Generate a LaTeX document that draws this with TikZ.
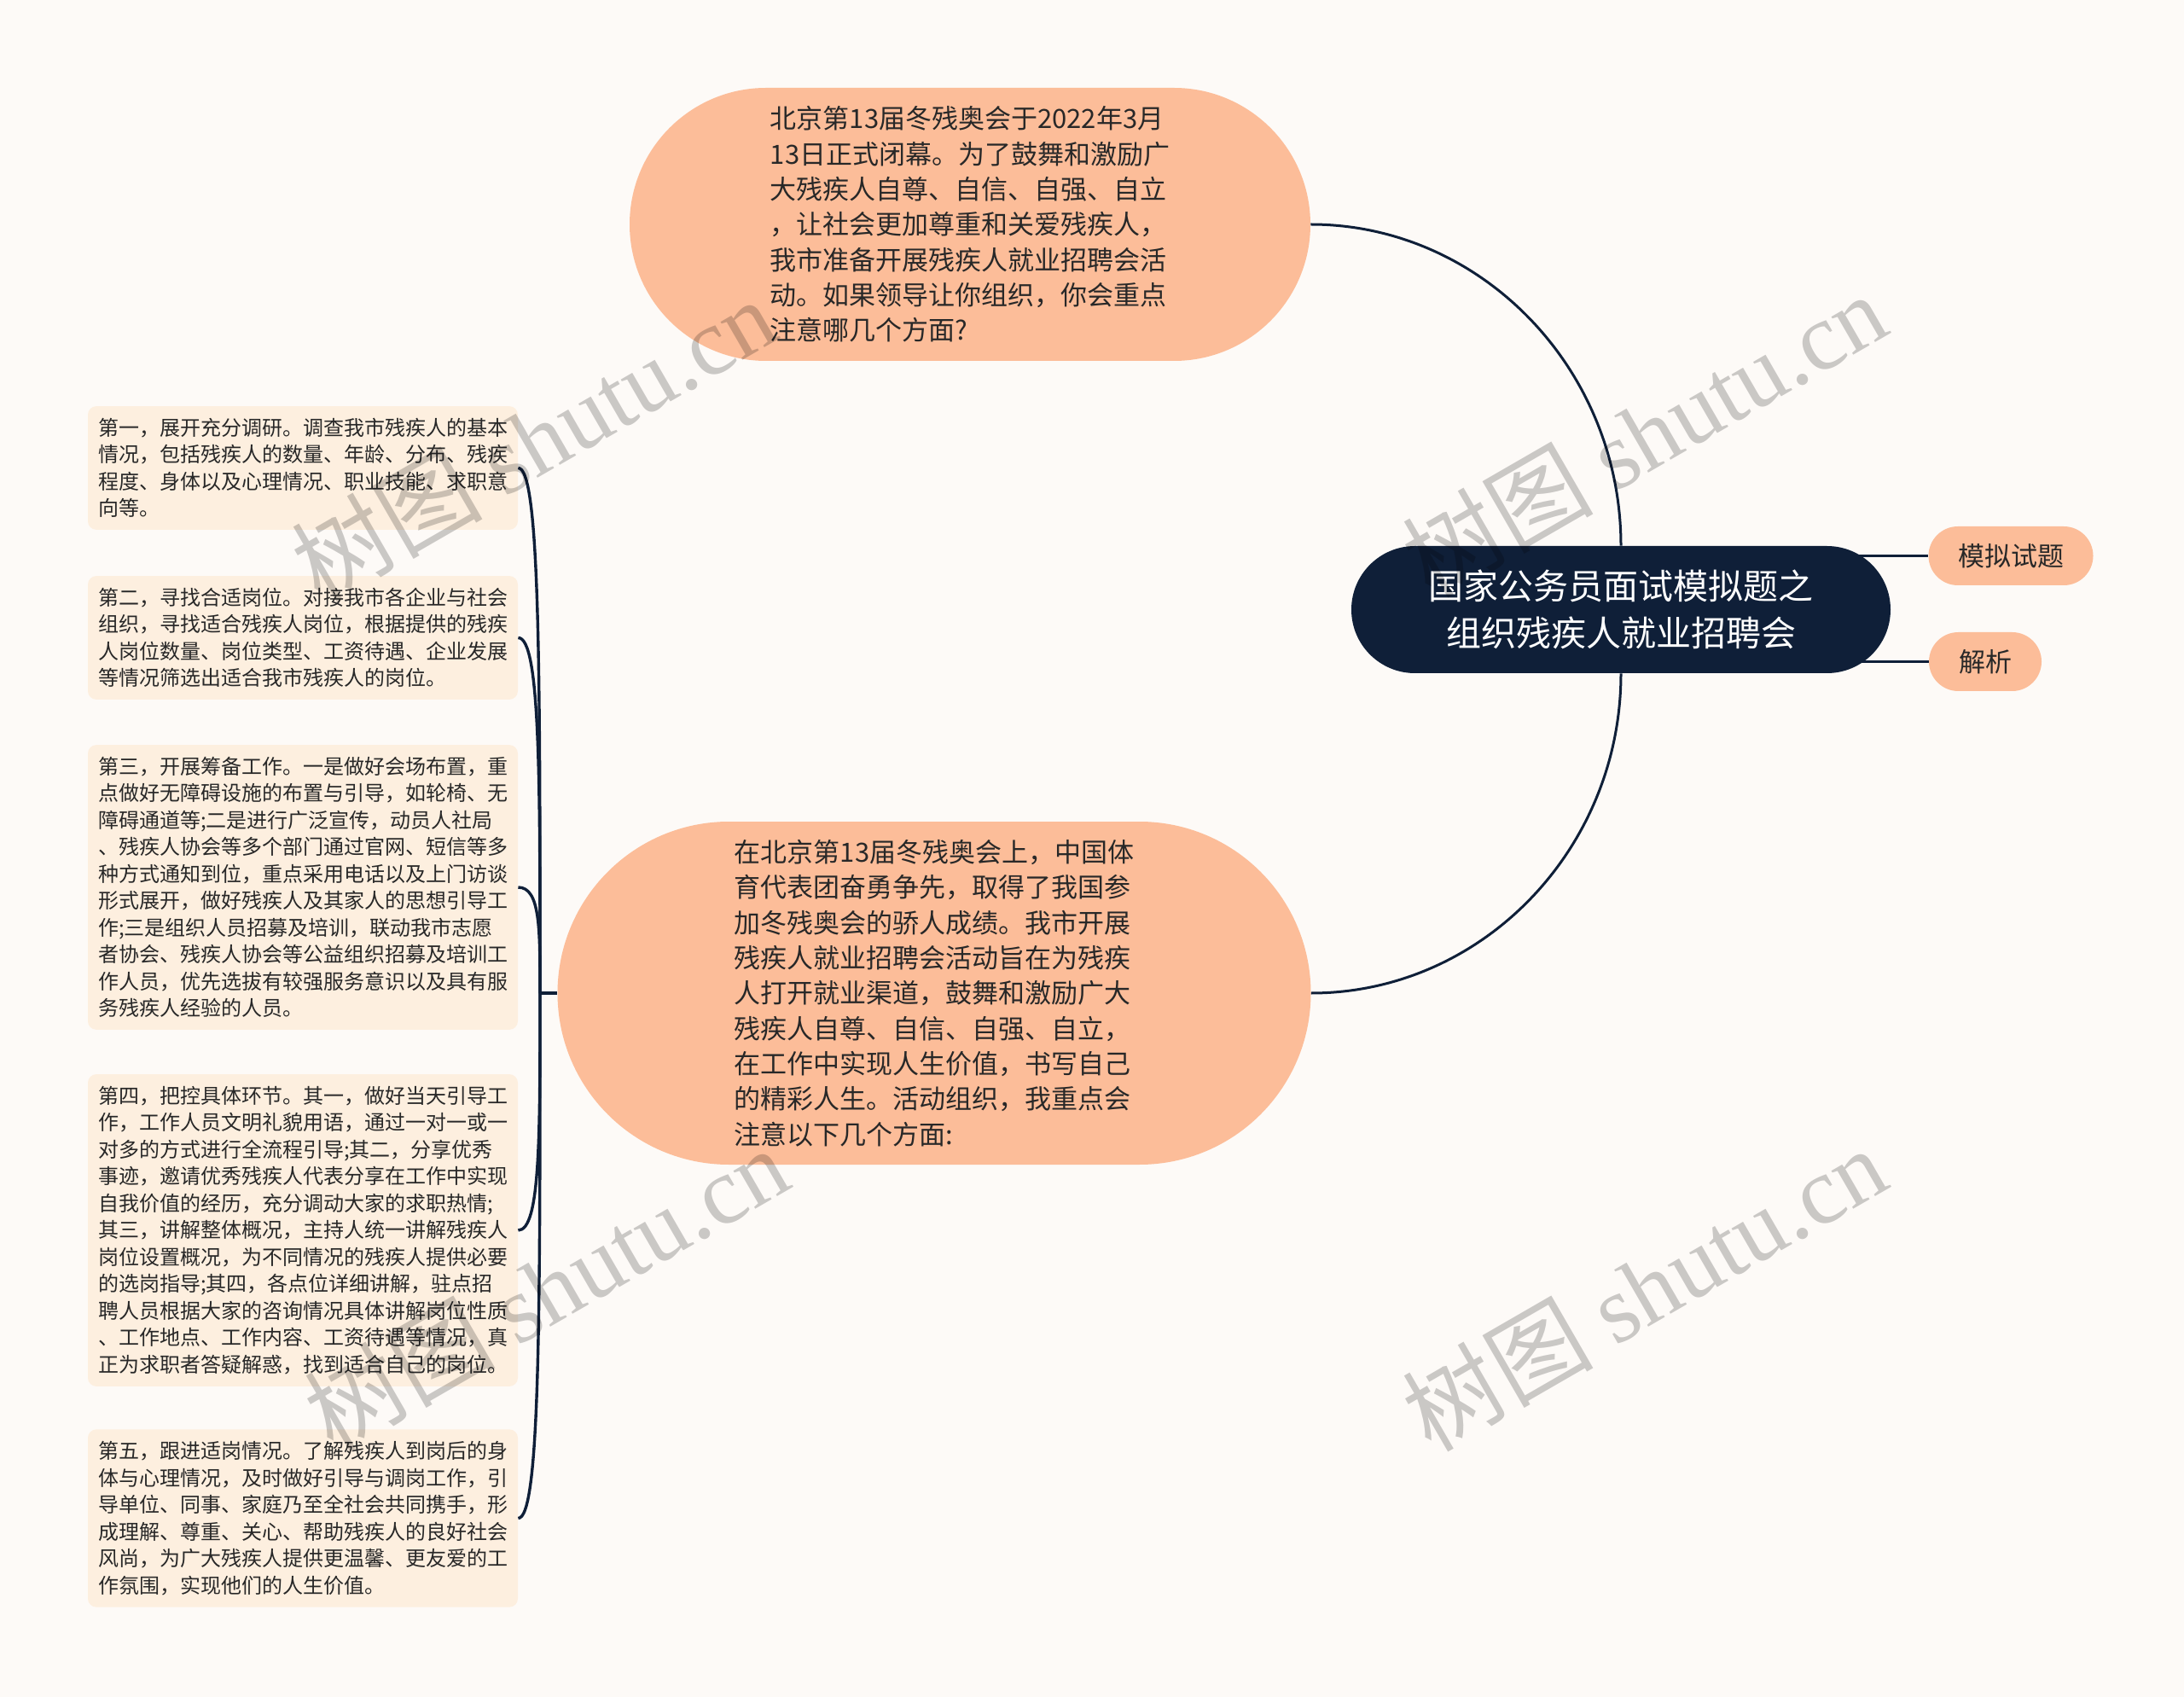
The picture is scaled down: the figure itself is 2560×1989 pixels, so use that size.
\documentclass[tikz,border=0pt]{standalone}
\usepackage{fontspec}
\setmainfont{Noto Sans CJK SC}
\newfontfamily\markfont{Liberation Serif}
\usetikzlibrary{positioning,calc,backgrounds}
\definecolor{bgpaper}{RGB}{253,250,247}
\definecolor{navy}{RGB}{15,31,56}
\definecolor{peach}{RGB}{252,189,153}
\definecolor{cream}{RGB}{253,239,223}
\definecolor{inkdark}{RGB}{40,40,40}
\tikzset{
  rootnode/.style = {rectangle, rounded corners=37.25pt, fill=navy, text=white,
                     minimum width=316pt, minimum height=74.5pt, align=center,
                     font=\fontsize{20.5pt}{27.75pt}\selectfont},
  tagnode/.style  = {rectangle, rounded corners=17.25pt, fill=peach, text=inkdark,
                     minimum height=34.5pt, font=\fontsize{15.5pt}{18pt}\selectfont},
  bignode/.style  = {rectangle, fill=peach, text=inkdark, align=left,
                     font=\fontsize{15.5pt}{20.65pt}\selectfont},
  pointbox/.style = {rectangle, rounded corners=5pt, fill=cream, text=inkdark,
                     align=left, inner xsep=5.5pt, inner ysep=7pt, minimum width=252pt,
                     font=\fontsize{12pt}{15.75pt}\selectfont},
  link/.style     = {draw=navy, line width=1.5pt},
  branch/.style   = {draw=navy, line width=1.7pt},
  wmark/.style    = {rotate=30, text=black, opacity=0.2,
                     font=\fontsize{56pt}{60pt}\selectfont}
}
\newcommand{\DrawPoint}[3]{%
  % cream box on the left
  \node[pointbox] (#1) at (355,#2) {#3};
  % branch from the junction to the box
  \draw[branch] (jn) .. controls ($(jn)!0.6!(jn |- #1.east)$)
                and ($(#1.east)+(26,0)$) .. (#1.east);
}
\begin{document}
\begin{tikzpicture}[x=0.5pt,y=-0.5pt]
    \begin{scope}[on background layer]
      \fill[bgpaper] (0,0) rectangle (2560,1989);
    \end{scope}
    \useasboundingbox (0,0) rectangle (2560,1989);

    % central topic
    \node[rootnode] (root) at (1900,714.5)
      {国家公务员面试模拟题之\\组织残疾人就业招聘会};

    \node[tagnode, minimum width=96.5pt] (m1) at (2357,651.5) {模拟试题};
    \node[tagnode, minimum width=66pt]   (m2) at (2327,775.5) {解析};

    % question
    \node[bignode, minimum width=399pt, minimum height=160pt,
          rounded corners=80pt] (q1) at (1137,263)
      {北京第13届冬残奥会于2022年3月\\
       13日正式闭幕。为了鼓舞和激励广\\
       大残疾人自尊、自信、自强、自立\\
       ，让社会更加尊重和关爱残疾人，\\
       我市准备开展残疾人就业招聘会活\\
       动。如果领导让你组织，你会重点\\
       注意哪几个方面?};

    % answer
    \node[bignode, minimum width=441.5pt, minimum height=201pt,
          rounded corners=100.5pt] (q2) at (1095,1164)
      {在北京第13届冬残奥会上，中国体\\
       育代表团奋勇争先，取得了我国参\\
       加冬残奥会的骄人成绩。我市开展\\
       残疾人就业招聘会活动旨在为残疾\\
       人打开就业渠道，鼓舞和激励广大\\
       残疾人自尊、自信、自强、自立，\\
       在工作中实现人生价值，书写自己\\
       的精彩人生。活动组织，我重点会\\
       注意以下几个方面:};

    \draw[link] (root.north) .. controls +(0,-207) and +(200,0) .. (q1.east);
    \draw[link] (root.south) .. controls +(0,206) and +(200,0) .. (q2.east);
    \begin{scope}[on background layer]
      \draw[link] (root.center |- m1.west) -- (m1.west);
      \draw[link] (root.center |- m2.west) -- (m2.west);
    \end{scope}

    % points of the answer
    \coordinate (jn) at (633,1164);
    \draw[branch] (q2.west) -- (jn);

    \DrawPoint{p1}{548.5}
      {第一，展开充分调研。调查我市残疾人的基本\\
       情况，包括残疾人的数量、年龄、分布、残疾\\
       程度、身体以及心理情况、职业技能、求职意\\
       向等。}
    \DrawPoint{p2}{747.5}
      {第二，寻找合适岗位。对接我市各企业与社会\\
       组织，寻找适合残疾人岗位，根据提供的残疾\\
       人岗位数量、岗位类型、工资待遇、企业发展\\
       等情况筛选出适合我市残疾人的岗位。}
    \DrawPoint{p3}{1040}
      {第三，开展筹备工作。一是做好会场布置，重\\
       点做好无障碍设施的布置与引导，如轮椅、无\\
       障碍通道等;二是进行广泛宣传，动员人社局\\
       、残疾人协会等多个部门通过官网、短信等多\\
       种方式通知到位，重点采用电话以及上门访谈\\
       形式展开，做好残疾人及其家人的思想引导工\\
       作;三是组织人员招募及培训，联动我市志愿\\
       者协会、残疾人协会等公益组织招募及培训工\\
       作人员，优先选拔有较强服务意识以及具有服\\
       务残疾人经验的人员。}
    \DrawPoint{p4}{1442}
      {第四，把控具体环节。其一，做好当天引导工\\
       作，工作人员文明礼貌用语，通过一对一或一\\
       对多的方式进行全流程引导;其二，分享优秀\\
       事迹，邀请优秀残疾人代表分享在工作中实现\\
       自我价值的经历，充分调动大家的求职热情;\\
       其三，讲解整体概况，主持人统一讲解残疾人\\
       岗位设置概况，为不同情况的残疾人提供必要\\
       的选岗指导;其四，各点位详细讲解，驻点招\\
       聘人员根据大家的咨询情况具体讲解岗位性质\\
       、工作地点、工作内容、工资待遇等情况，真\\
       正为求职者答疑解惑，找到适合自己的岗位。}
    \DrawPoint{p5}{1779.5}
      {第五，跟进适岗情况。了解残疾人到岗后的身\\
       体与心理情况，及时做好引导与调岗工作，引\\
       导单位、同事、家庭乃至全社会共同携手，形\\
       成理解、尊重、关心、帮助残疾人的良好社会\\
       风尚，为广大残疾人提供更温馨、更友爱的工\\
       作氛围，实现他们的人生价值。}

    % watermarks
    \node[wmark] (wm1) at (625,515)   {树图 {\markfont shutu.cn}};
    \node[wmark] (wm2) at (1927,509)  {树图 {\markfont shutu.cn}};
    \node[wmark] (wm3) at (640,1510)  {树图 {\markfont shutu.cn}};
    \node[wmark] (wm4) at (1927,1510) {树图 {\markfont shutu.cn}};
\end{tikzpicture}
\end{document}
